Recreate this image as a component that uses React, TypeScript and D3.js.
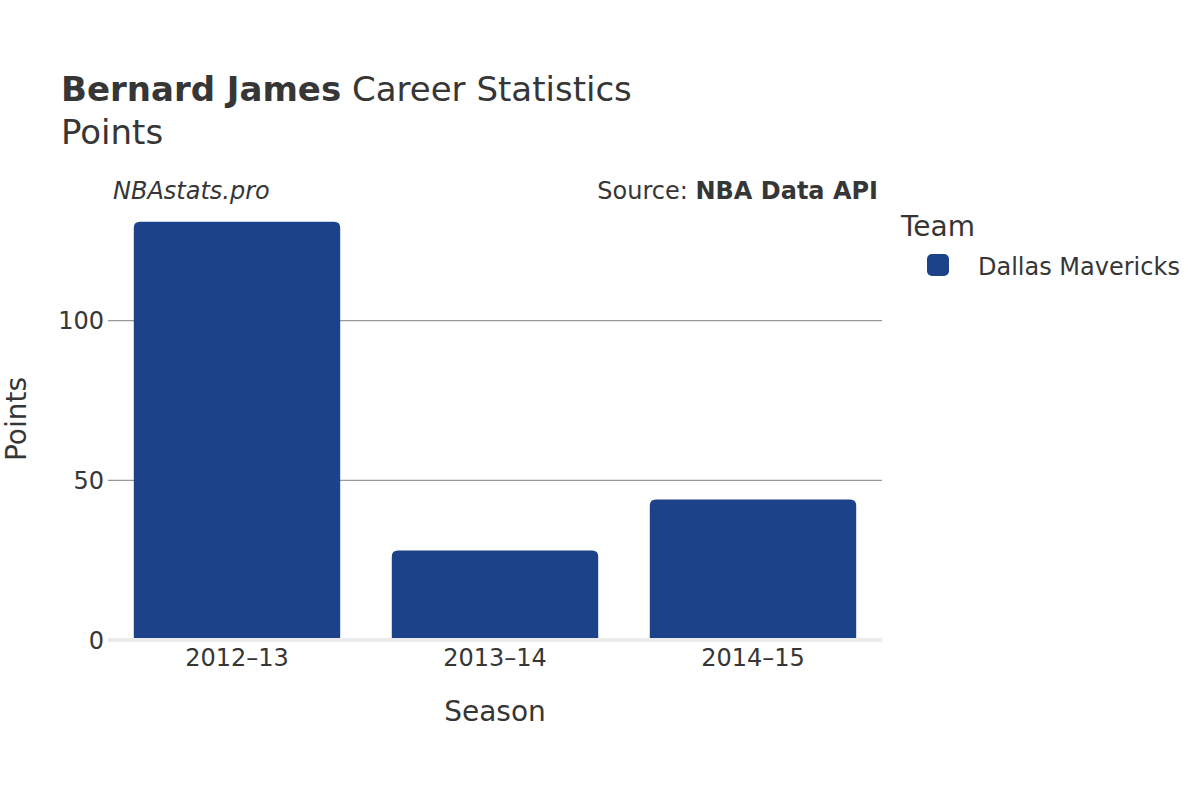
import React from "react";
import * as d3 from "d3";

const seasons = ["2012–13", "2013–14", "2014–15"];
const points = [131, 28, 44];
const yTicks = [0, 50, 100];
const teamName = "Dallas Mavericks";
const barColor = "#1c4389";

const W = 1200;
const H = 800;
const plot = { left: 108, right: 882, top: 210, bottom: 640 };
const FONT = "'DejaVu Sans', Verdana, sans-serif";
const TEXT = "#363636";

function roundedTopBar(x: number, y: number, w: number, h: number, r: number) {
  const rr = Math.min(r, h, w / 2);
  return `M${x},${y + h} L${x},${y + rr} Q${x},${y} ${x + rr},${y} L${x + w - rr},${y} Q${x + w},${y} ${x + w},${y + rr} L${x + w},${y + h} Z`;
}

export default function App() {
  const x = d3
    .scaleBand<string>()
    .domain(seasons)
    .range([plot.left, plot.right])
    .paddingInner(0.2)
    .paddingOuter(0.1);
  const y = d3.scaleLinear().domain([0, 100]).range([plot.bottom, 320.7]);

  return (
    <svg width={W} height={H} style={{ position: "absolute", left: 0, top: 0, background: "#fff" }} fontFamily={FONT}>
      <rect x={0} y={0} width={W} height={H} fill="#fff" />
      {/* title */}
      <text x={61} y={101} fontSize={34} fill={TEXT}>
        <tspan fontWeight="bold">Bernard James</tspan>
        <tspan> Career Statistics</tspan>
      </text>
      <text x={61} y={144} fontSize={34} fill={TEXT}>Points</text>

      <text x={113} y={199} fontSize={24} fontStyle="italic" fill={TEXT}>NBAstats.pro</text>
      <text x={878} y={199} fontSize={24} textAnchor="end" fill={TEXT}>
        <tspan>Source: </tspan>
        <tspan fontWeight="bold">NBA Data API</tspan>
      </text>

      {/* gridlines */}
      {yTicks.filter((t) => t !== 0).map((t) => (
        <line key={t} x1={plot.left} x2={plot.right} y1={y(t)} y2={y(t)} stroke="#999" strokeWidth={1.2} />
      ))}
      {yTicks.map((t) => (
        <text key={"tk" + t} x={104} y={y(t) + 8.5} fontSize={24} textAnchor="end" fill={TEXT}>{t}</text>
      ))}
      {/* zero line */}
      <line x1={plot.left} x2={plot.right} y1={y(0)} y2={y(0)} stroke="#ebebeb" strokeWidth={4} />

      {/* bars */}
      {seasons.map((s, i) => (
        <path
          key={s}
          d={roundedTopBar(x(s)!, y(points[i]), x.bandwidth(), y(0) - y(points[i]) - 2, 6)}
          fill={barColor}
        />
      ))}

      {/* x labels */}
      {seasons.map((s) => (
        <text key={"xl" + s} x={x(s)! + x.bandwidth() / 2} y={666} fontSize={24} textAnchor="middle" fill={TEXT}>{s}</text>
      ))}

      <text x={(plot.left + plot.right) / 2} y={721} fontSize={28} textAnchor="middle" fill={TEXT}>Season</text>
      <text transform={`translate(26,419) rotate(-90)`} fontSize={28} textAnchor="middle" fill={TEXT}>Points</text>

      {/* legend */}
      <text x={901} y={236} fontSize={28} fill={TEXT}>Team</text>
      <rect x={927} y={254} width={22} height={22} rx={5} fill={barColor} />
      <text x={978} y={275} fontSize={24} fill={TEXT}>{teamName}</text>
    </svg>
  );
}
